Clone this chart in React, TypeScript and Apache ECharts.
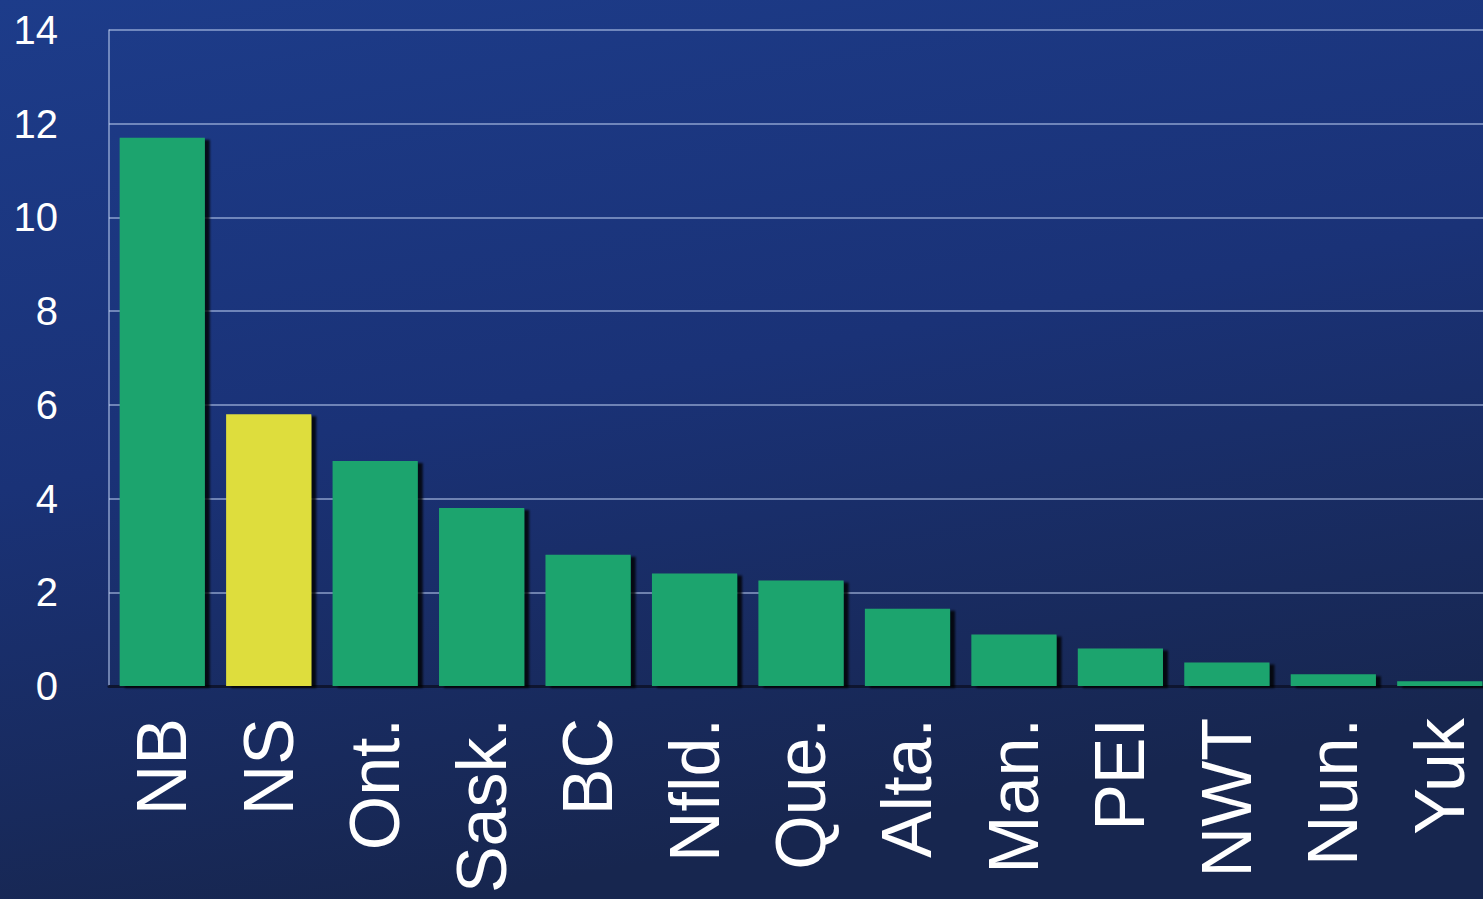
import React, { useEffect, useRef } from "react";
import * as echarts from "echarts";

const categories = ["NB", "NS", "Ont.", "Sask.", "BC", "Nfld.", "Que.", "Alta.", "Man.", "PEI", "NWT", "Nun.", "Yuk"];
const values = [11.7, 5.8, 4.8, 3.8, 2.8, 2.4, 2.25, 1.65, 1.1, 0.8, 0.5, 0.25, 0.1];
const highlighted = ["NS"];
const yTicks = [0, 2, 4, 6, 8, 10, 12, 14];

const GREEN = "#1ea46e";
const YELLOW = "#dedd3e";

export default function App() {
  const ref = useRef<HTMLDivElement>(null);
  useEffect(() => {
    if (!ref.current) return;
    const chart = echarts.init(ref.current, undefined, { renderer: "svg" });
    chart.setOption({
      animation: false,
      backgroundColor: {
        type: "linear",
        x: 0,
        y: 0,
        x2: 0.3,
        y2: 1,
        colorStops: [
          { offset: 0, color: "#1d3c8a" },
          { offset: 0.5, color: "#1a3277" },
          { offset: 1, color: "#17264f" },
        ],
      },
      grid: { left: 109, right: 0, top: 30, bottom: 213, containLabel: false },
      xAxis: {
        type: "category",
        data: categories,
        axisLine: { show: true, lineStyle: { color: "#0e1530", width: 3 } },
        axisTick: { show: false },
        axisLabel: {
          rotate: 90,
          margin: 32,
          color: "#ffffff",
          fontSize: 70,
          fontFamily: "Liberation Sans, Arial, sans-serif",
          interval: 0,
        },
      },
      yAxis: {
        type: "value",
        min: yTicks[0],
        max: yTicks[yTicks.length - 1],
        interval: 2,
        axisLine: { show: true, lineStyle: { color: "rgba(190,205,240,0.7)", width: 1.5 } },
        axisTick: { show: false },
        splitLine: { show: true, lineStyle: { color: "rgba(190,205,240,0.7)", width: 1.5 } },
        axisLabel: {
          color: "#ffffff",
          fontSize: 40,
          margin: 51,
          fontFamily: "Liberation Sans, Arial, sans-serif",
        },
      },
      series: [
        {
          type: "bar",
          barCategoryGap: "20%",
          data: values.map((v, i) => ({
            value: v,
            itemStyle: { color: highlighted.includes(categories[i]) ? YELLOW : GREEN },
          })),
          itemStyle: {
            shadowColor: "rgba(0,0,0,0.8)",
            shadowOffsetX: 5,
            shadowOffsetY: 2,
            shadowBlur: 2,
          },
        },
      ],
    });
    return () => chart.dispose();
  }, []);
  return (
    <div
      style={{
        position: "absolute",
        left: 0,
        top: 0,
        width: "1483px",
        height: "899px",
        overflow: "hidden",
      }}
    >
      <div ref={ref} style={{ width: "1493px", height: "899px" }} />
    </div>
  );
}
